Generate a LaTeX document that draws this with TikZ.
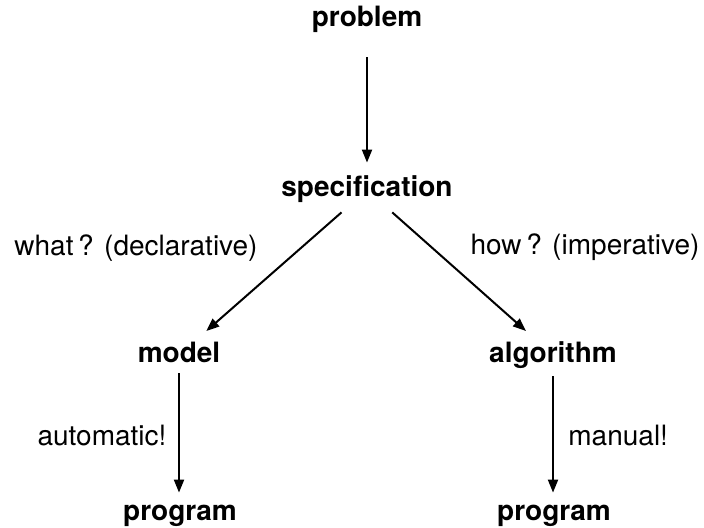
\documentclass[tikz,border=0pt]{standalone}
\usepackage{fontspec}
\setmainfont{TeX Gyre Heros}
\usetikzlibrary{arrows.meta}
\begin{document}
\begin{tikzpicture}[
    x=0.5pt, y=-0.5pt,
    stage/.style={font=\fontsize{14pt}{17pt}\selectfont\bfseries, inner sep=0pt,
                  text height=10pt, text depth=3pt, anchor=base},
    note/.style={font=\fontsize{14pt}{17pt}\selectfont, inner sep=0pt, anchor=base},
    flow/.style={line width=1pt, -{Triangle[length=6.5pt,width=5pt]}}
  ]
  \useasboundingbox (0,0) rectangle (704,528);

  % stages of the derivation
  \node[stage] (problem) at (367,27)  {problem};
  \node[stage] (spec)    at (367,197) {specification};
  \node[stage] (model)   at (179,362) {model};
  \node[stage] (algo)    at (553,362) {algorithm};
  \node[stage] (progL)   at (180,520) {program};
  \node[stage] (progR)   at (554,520) {program};

  % edge annotations
  \node[note] (what)   at (136,256) {what\,? (declarative)};
  \node[note] (how)    at (585,255) {how\,? (imperative)};
  \node[note] (auto)   at (102,445) {automatic!};
  \node[note, anchor=base west] (manual) at (568,445) {manual!};

  % connectors
  \draw[flow, shorten <=12pt, shorten >=7pt] (problem.south) -- (spec.north);
  \draw[flow, shorten <=6.8pt, shorten >=8pt] (spec) -- (model);
  \draw[flow, shorten <=6.8pt, shorten >=8pt] (spec) -- (algo);
  \draw[flow, shorten <=2.5pt, shorten >=3.5pt] (model.south) -- (model.south |- progL.north);
  \draw[flow, shorten <=4pt, shorten >=3.5pt] (algo.south) -- (algo.south |- progR.north);
\end{tikzpicture}
\end{document}
